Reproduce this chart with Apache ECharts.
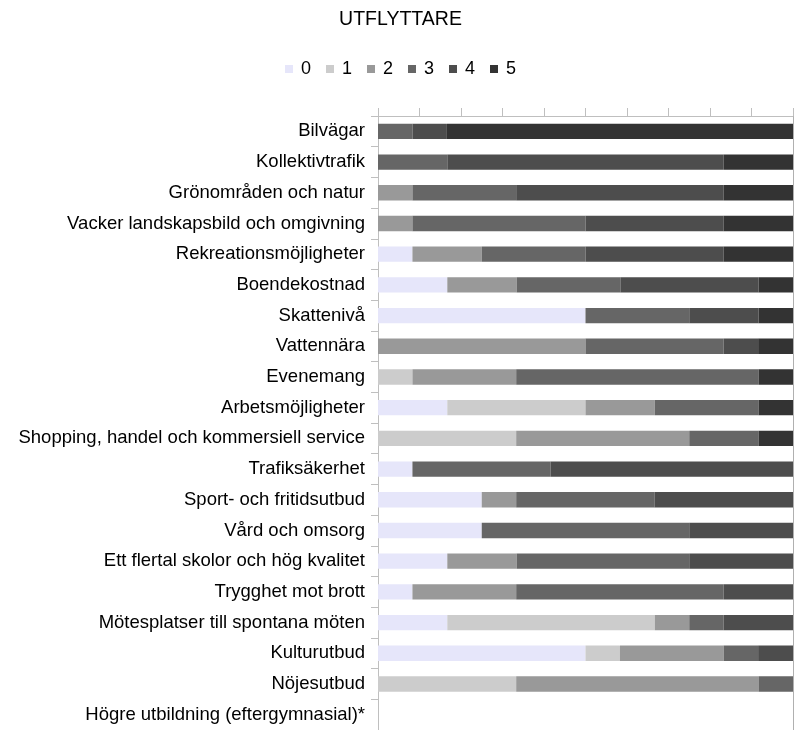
<!DOCTYPE html>
<html>
<head>
<meta charset="utf-8">
<script src="https://cdn.jsdelivr.net/npm/echarts@6/dist/echarts.min.js"></script>
<style>
  html, body { margin: 0; padding: 0; background: #ffffff; }
  #chart { width: 801px; height: 730px; }
</style>
</head>
<body>
<div id="chart"></div>
<script>
// Rating categories (0 = lowest, 5 = highest)
const categories = [
  'Bilvägar',
  'Kollektivtrafik',
  'Grönområden och natur',
  'Vacker landskapsbild och omgivning',
  'Rekreationsmöjligheter',
  'Boendekostnad',
  'Skattenivå',
  'Vattennära',
  'Evenemang',
  'Arbetsmöjligheter',
  'Shopping, handel och kommersiell service',
  'Trafiksäkerhet',
  'Sport- och fritidsutbud',
  'Vård och omsorg',
  'Ett flertal skolor och hög kvalitet',
  'Trygghet mot brott',
  'Mötesplatser till spontana möten',
  'Kulturutbud',
  'Nöjesutbud',
  'Högre utbildning (eftergymnasial)*'
];

const seriesNames = ['0', '1', '2', '3', '4', '5'];

// Share of answers (%) per rating, one value per category
const score0 = [0, 0, 0, 0, 8.3, 16.7, 50, 0, 0, 16.7, 0, 8.3, 25, 25, 16.7, 8.3, 16.7, 50, 0, null];
const score1 = [0, 0, 0, 0, 0, 0, 0, 0, 8.3, 33.3, 33.3, 0, 0, 0, 0, 0, 50, 8.3, 33.3, null];
const score2 = [0, 0, 8.3, 8.3, 16.7, 16.7, 0, 50, 25, 16.7, 41.7, 0, 8.3, 0, 16.7, 25, 8.3, 25, 58.4, null];
const score3 = [8.3, 16.7, 25, 41.7, 25, 25, 25, 33.3, 58.4, 25, 16.7, 33.3, 33.3, 50, 41.6, 50, 8.3, 8.3, 8.3, null];
const score4 = [8.3, 66.6, 50, 33.3, 33.3, 33.3, 16.7, 8.3, 0, 0, 0, 58.4, 33.4, 25, 25, 16.7, 16.7, 8.4, 0, null];
const score5 = [83.4, 16.7, 16.7, 16.7, 16.7, 8.3, 8.3, 8.4, 8.3, 8.3, 8.3, 0, 0, 0, 0, 0, 0, 0, 0, null];

const scoreData = [score0, score1, score2, score3, score4, score5];
const colors = ['#E6E6FA', '#CCCCCC', '#999999', '#666666', '#4D4D4D', '#333333'];

const fontFamily = '"Liberation Sans", Arial, sans-serif';
const axisGray = '#BFBFBF';

const chart = echarts.init(document.getElementById('chart'), null, { renderer: 'canvas' });

chart.setOption({
  backgroundColor: '#ffffff',
  animation: false,
  color: colors,
  textStyle: { fontFamily: fontFamily },
  title: {
    text: 'UTFLYTTARE',
    left: 'center',
    top: 5,
    textStyle: { fontFamily: fontFamily, fontSize: 19.5, fontWeight: 'normal', color: '#000000' }
  },
  legend: {
    data: seriesNames,
    top: 55,
    left: 'center',
    icon: 'rect',
    itemWidth: 8,
    itemHeight: 8,
    itemGap: 15,
    textStyle: { fontFamily: fontFamily, fontSize: 18, color: '#000000', padding: [0, 0, 0, 3] }
  },
  grid: {
    left: 378,
    right: 8,
    top: 116,
    height: 616,
    containLabel: false
  },
  xAxis: {
    type: 'value',
    position: 'top',
    min: 0,
    max: 100,
    interval: 10,
    axisLine: { show: true, lineStyle: { color: axisGray, width: 1 } },
    axisTick: { show: true, length: 8, lineStyle: { color: axisGray } },
    axisLabel: { show: false },
    splitLine: { show: false }
  },
  yAxis: [
    {
      type: 'category',
      data: categories,
      inverse: true,
      boundaryGap: true,
      axisLine: { show: true, lineStyle: { color: axisGray, width: 1 } },
      axisTick: { show: true, length: 7, interval: 0, lineStyle: { color: axisGray } },
      axisLabel: {
        show: true,
        interval: 0,
        margin: 13,
        fontFamily: fontFamily,
        fontSize: 18.5,
        color: '#000000'
      },
      splitLine: { show: false }
    },
    {
      type: 'category',
      data: categories,
      inverse: true,
      position: 'right',
      axisLine: { show: true, lineStyle: { color: '#B0B0B0', width: 1 } },
      axisTick: { show: false },
      axisLabel: { show: false },
      splitLine: { show: false }
    }
  ],
  series: seriesNames.map((name, i) => ({
    name: name,
    type: 'bar',
    stack: 'total',
    barWidth: '50%',
    yAxisIndex: 0,
    itemStyle: { color: colors[i] },
    emphasis: { disabled: true },
    data: scoreData[i]
  }))
});
</script>
</body>
</html>
